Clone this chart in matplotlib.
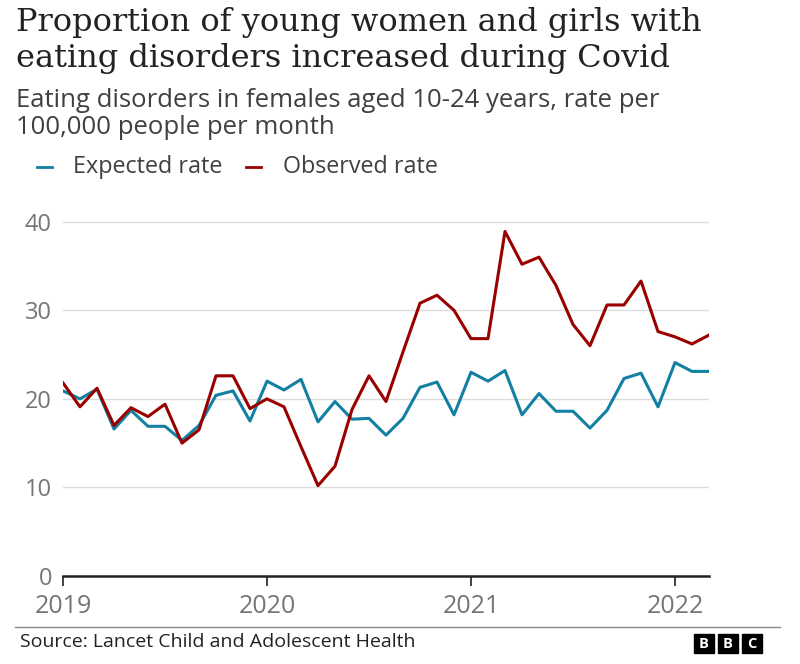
import matplotlib.pyplot as plt
from matplotlib.patches import Rectangle

# Monthly rates, Jan 2019 - Mar 2022
months = list(range(39))
expected = [20.9, 20.0, 21.1, 16.6, 18.7, 16.9, 16.9, 15.3, 17.0, 20.4, 20.9, 17.5,
            22.0, 21.0, 22.2, 17.4, 19.7, 17.7, 17.8, 15.9, 17.8, 21.3, 21.9, 18.2,
            23.0, 22.0, 23.2, 18.2, 20.6, 18.6, 18.6, 16.7, 18.7, 22.3, 22.9, 19.1,
            24.1, 23.1, 23.1]
observed = [21.8, 19.1, 21.2, 17.0, 19.0, 18.0, 19.4, 15.0, 16.5, 22.6, 22.6, 18.9,
            20.0, 19.1, 14.6, 10.2, 12.4, 18.8, 22.6, 19.7, 25.3, 30.8, 31.7, 30.0,
            26.8, 26.8, 38.9, 35.2, 36.0, 32.8, 28.4, 26.0, 30.6, 30.6, 33.3, 27.6,
            27.0, 26.2, 27.2]
year_ticks = [0, 12, 24, 36]
year_labels = ['2019', '2020', '2021', '2022']
y_ticks = [0, 10, 20, 30, 40]

blue = '#1380a1'
red = '#990000'
grey = '#757575'
sans = 'Open Sans'
serif = 'DejaVu Serif'

W, H = 800, 664
fig = plt.figure(figsize=(8, 6.64), dpi=100)
ax = fig.add_axes([63 / W, 1 - 576 / H, 646 / W, 372 / H])

ax.plot(months, expected, color=blue, lw=2.2)
ax.plot(months, observed, color=red, lw=2.2)

ax.set_xlim(0, 38)
ax.set_ylim(0, 42)
ax.set_yticks(y_ticks)
ax.set_yticklabels([str(v) for v in y_ticks], fontsize=17, color=grey, family=sans)
ax.set_xticks(year_ticks)
ax.set_xticklabels(year_labels, fontsize=18, color=grey, family=sans)
ax.tick_params(axis='y', length=0, pad=8)
ax.tick_params(axis='x', length=7, width=1.2, color='#222222', pad=6)
ax.grid(axis='y', color='#dddddd', lw=1)
ax.set_axisbelow(True)
for s in ['top', 'right', 'left']:
    ax.spines[s].set_visible(False)
ax.spines['bottom'].set_color('#222222')
ax.spines['bottom'].set_linewidth(1.8)

# Title, subtitle and legend
fig.text(16 / W, 1 - 7 / H, 'Proportion of young women and girls with\neating disorders increased during Covid',
         fontsize=23, family=serif, color='#222222', va='top', linespacing=1.22)
fig.text(16 / W, 1 - 88 / H, 'Eating disorders in females aged 10-24 years, rate per\n100,000 people per month',
         fontsize=18.5, family=sans, color='#404040', va='top', linespacing=1.12)
fig.add_artist(plt.Line2D([37 / W, 52 / W], [1 - 167 / H] * 2, color=blue, lw=2))
fig.text(73 / W, 1 - 167 / H, 'Expected rate', fontsize=16.8, family=sans, color='#404040', va='center')
fig.add_artist(plt.Line2D([246 / W, 261 / W], [1 - 167 / H] * 2, color=red, lw=2))
fig.text(283 / W, 1 - 167 / H, 'Observed rate', fontsize=16.8, family=sans, color='#404040', va='center')

# Footer
fig.add_artist(plt.Line2D([15 / W, 780 / W], [1 - 627 / H] * 2, color='#888888', lw=1))
fig.text(20 / W, 1 - 642 / H, 'Source: Lancet Child and Adolescent Health', fontsize=14,
         family=sans, color='#222222', va='center')
for i, letter in enumerate('BBC'):
    x0 = 694 + i * 24
    fig.add_artist(Rectangle((x0 / W, 1 - 653 / H), 20 / W, 19 / H, color='black',
                             transform=fig.transFigure))
    fig.text((x0 + 10) / W, 1 - 643.5 / H, letter, fontsize=10.5, fontweight='bold',
             color='white', ha='center', va='center', family=sans)

fig.savefig('out.png', dpi=100)
